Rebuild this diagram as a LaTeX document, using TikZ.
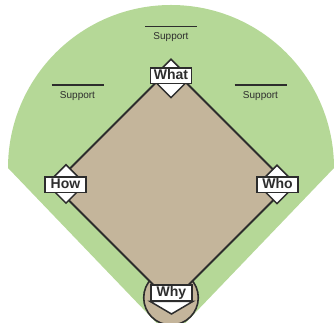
\documentclass[tikz,border=0pt]{standalone}
\usepackage{fontspec}
\setmainfont{Liberation Sans}
\usepackage{tikz}
\usetikzlibrary{shapes.geometric}

\definecolor{field}{RGB}{181,216,151}
\definecolor{dirt}{RGB}{196,181,155}
\definecolor{chalk}{RGB}{45,45,45}

\tikzset{
  base/.style={draw=chalk, line width=1.5pt, fill=white, text=chalk,
    font=\bfseries\fontsize{14}{14}\selectfont, minimum width=41pt,
    inner xsep=3pt, inner ysep=1.5pt, text height=10pt, text depth=2.5pt},
  bag/.style={diamond, draw=chalk, line width=1.5pt, fill=white,
    minimum size=39pt, inner sep=0pt},
  sup/.style={font=\fontsize{10}{10}\selectfont, text=chalk, anchor=base},
  supline/.style={draw=chalk, line width=1.4pt}
}

\begin{document}
\begin{tikzpicture}[x=1pt,y=1pt]
\useasboundingbox (0,0) rectangle (335,323);
\clip (0,0) rectangle (335,323);

% outfield
\fill[field] (8,155) arc[start angle=180, end angle=0, radius=163] -- (171,-15) -- cycle;

% home circle and infield
\node[circle, draw=chalk, line width=1.6pt, fill=dirt, minimum size=54.6pt, inner sep=0pt] (plate) at (171,25.3) {};
\coordinate (second) at (171,255.5);
\coordinate (third) at (53.5,138);
\coordinate (first) at (288.5,138);
\coordinate (home) at (171,20.5);
\filldraw[fill=dirt, draw=chalk, line width=2pt] (home) -- (first) -- (second) -- (third) -- cycle;

% bases
\node[bag] (bagWhat) at (171,244.5) {};
\node[base] (What) at (171,247) {What};
\node[bag] (bagHow) at (66,139) {};
\node[base] (How) at (65.5,138) {How};
\node[bag] (bagWho) at (277,138.5) {};
\node[base] (Who) at (277.5,138) {Who};
\node[base] (Why) at (171.5,30) {Why};
\coordinate (tip) at (171.5,9);
\filldraw[fill=white, draw=chalk, line width=1.5pt] (Why.south west) -- (tip) -- (Why.south east) -- cycle;

% supports
\node[sup] (supTop) at (171,283) {Support};
\draw[supline] ([shift={(-26,13.3)}]supTop.base) -- ([shift={(26,13.3)}]supTop.base);
\node[sup] (supLeft) at (77.5,224.7) {Support};
\draw[supline] ([shift={(-26,13.3)}]supLeft.base) -- ([shift={(26,13.3)}]supLeft.base);
\node[sup] (supRight) at (260.5,224.7) {Support};
\draw[supline] ([shift={(-26,13.3)}]supRight.base) -- ([shift={(26,13.3)}]supRight.base);
\end{tikzpicture}
\end{document}
